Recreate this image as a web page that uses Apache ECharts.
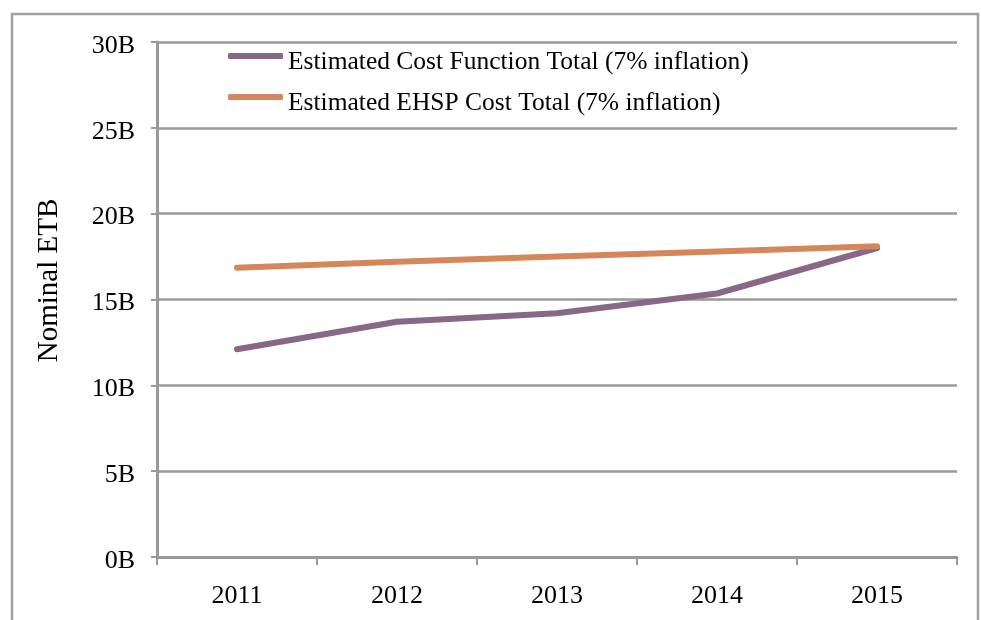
<!DOCTYPE html>
<html><head><meta charset="utf-8">
<script src="https://cdn.jsdelivr.net/npm/echarts@6/dist/echarts.min.js"></script>
<style>html,body{margin:0;padding:0;background:#fff}#c{width:981px;height:620px}</style>
</head><body><div id="c"></div>
<script>
const years = ['2011','2012','2013','2014','2015'];
const costFunction = [12.1, 13.7, 14.2, 15.35, 18.0];
const ehspCost = [16.85, 17.2, 17.5, 17.8, 18.1];
const seriesNames = ['Estimated Cost Function Total (7% inflation)', 'Estimated EHSP Cost Total (7% inflation)'];
const yTicks = [0, 5, 10, 15, 20, 25, 30];

const FONT = 'Liberation Serif';
const chart = echarts.init(document.getElementById('c'));
chart.setOption({
  animation: false,
  backgroundColor: '#fff',
  textStyle: {fontFamily: FONT, color: '#000'},
  graphic: [{type: 'rect', shape: {x: 12, y: 14, width: 966, height: 700}, style: {fill: 'none', stroke: '#a0a0a0', lineWidth: 2.5}, silent: true}],
  grid: {left: 157, right: 24, top: 42, bottom: 63, containLabel: false},
  legend: {
    orient: 'vertical', left: 223, top: 44, itemWidth: 55, itemHeight: 6, itemGap: 15,
    icon: 'roundRect',
    formatter: '{a|{name}}',
    textStyle: {fontFamily: FONT, fontSize: 25.5, color: '#000', rich: {a: {fontFamily: FONT, fontSize: 25.5, color: '#000', padding: [12, 0, 0, 0]}}},
    data: seriesNames
  },
  xAxis: {
    type: 'category', data: years, boundaryGap: true,
    axisLine: {lineStyle: {color: '#999', width: 3}},
    axisTick: {show: true, length: 8, lineStyle: {color: '#999', width: 2}},
    axisLabel: {fontFamily: FONT, fontSize: 26, color: '#000', margin: 26}
  },
  yAxis: {
    type: 'value', min: yTicks[0], max: yTicks[yTicks.length - 1], interval: 5,
    name: 'Nominal ETB', nameLocation: 'middle', nameGap: 93, nameRotate: 90,
    nameTextStyle: {fontFamily: FONT, fontSize: 29, color: '#000', padding: [0, 0, 0, 38]},
    axisLine: {show: true, lineStyle: {color: '#999', width: 3}},
    axisTick: {show: true, length: 6, lineStyle: {color: '#999', width: 2}},
    splitLine: {lineStyle: {color: '#999', width: 2.5}},
    axisLabel: {fontFamily: FONT, fontSize: 26, color: '#000', margin: 22,
      formatter: v => '{a|' + v + 'B}',
      rich: {a: {fontFamily: FONT, fontSize: 26, color: '#000', padding: [8, 0, 0, 0]}}}
  },
  series: [
    {name: seriesNames[0], type: 'line', data: costFunction, symbol: 'none', lineStyle: {color: '#886886', width: 6, cap: 'round', join: 'round'}, itemStyle: {color: '#886886'}},
    {name: seriesNames[1], type: 'line', data: ehspCost, symbol: 'none', lineStyle: {color: '#d4875b', width: 6, cap: 'round', join: 'round'}, itemStyle: {color: '#d4875b'}}
  ]
});
</script></body></html>
